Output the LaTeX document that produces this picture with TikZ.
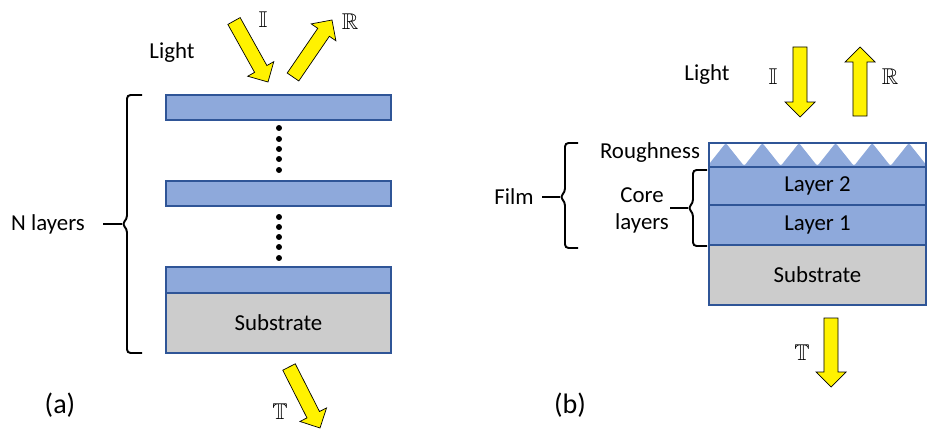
\documentclass[tikz,border=0pt]{standalone}
\usepackage{amssymb}
\usepackage{fontspec}
\setmainfont{Carlito}
\usetikzlibrary{calc}

\definecolor{layerblue}{RGB}{142,169,219}
\definecolor{edgeblue}{RGB}{47,85,151}
\definecolor{subgray}{RGB}{204,204,204}
\definecolor{beamyellow}{RGB}{255,242,0}

\tikzset{
  layer/.style={fill=layerblue, draw=edgeblue, line width=0.8pt},
  substrate/.style={fill=subgray, draw=edgeblue, line width=0.8pt},
  beam/.style={fill=beamyellow, draw=black, line width=0.4pt, line join=miter},
  brace/.style={draw=black, line width=1.1pt, rounded corners=2pt},
  lbl/.style={font=\fontsize{13}{15.5}\selectfont, inner sep=0pt},
  sym/.style={font=\fontsize{13}{15}\selectfont, inner sep=0pt},
  tag/.style={font=\fontsize{16}{19}\selectfont, inner sep=0pt}
}

% block arrow from #1 (tail) to #2 (tip)
\newcommand\lightbeam[2]{%
  \path ($(#2)!8.5pt!(#1)$) coordinate (hb);
  \draw[beam] ($(#1)!4pt!90:(#2)$) -- ($(hb)!4pt!90:(#2)$) -- ($(hb)!8.5pt!90:(#2)$)
    -- (#2) -- ($(hb)!8.5pt!-90:(#2)$) -- ($(hb)!4pt!-90:(#2)$) -- ($(#1)!4pt!-90:(#2)$) -- cycle;}

\begin{document}
\begin{tikzpicture}[x=0.02cm, y=-0.02cm]
  \useasboundingbox (0,0) rectangle (928,429);

  % (a) stack of N layers
  \draw[layer] (166,95) rectangle (391,120);
  \draw[layer] (166,181) rectangle (391,206);
  \draw[layer] (166,267) rectangle (391,293);
  \draw[substrate] (166,293) rectangle (391,353);
  \node[lbl] (sub_a) at (278.5,323) {Substrate};
  \foreach \y in {128,139,149,159,170,217,227,237,247,258}
    \fill (279,\y) circle (1.7pt);

  \draw[brace] (142,95) -- (127,95) -- (127,219) -- (122,224) -- (127,229) -- (127,353) -- (142,353);
  \coordinate (tip_a) at (122,224);
  \node[lbl] (nlay) at (48,224) {N layers};
  \draw[line width=1.1pt] (103,224) -- (tip_a);

  \node[lbl] (light_a) at (172,53) {Light};
  \coordinate (ia0) at (234,21);  \coordinate (ia1) at (268,82);
  \coordinate (ra0) at (293,77);  \coordinate (ra1) at (332,20);
  \coordinate (ta0) at (289,367); \coordinate (ta1) at (320,428);
  \lightbeam{ia0}{ia1}
  \lightbeam{ra0}{ra1}
  \lightbeam{ta0}{ta1}
  \node[sym] (i_a) at (263,20) {$\mathbb{I}$};
  \node[sym] (r_a) at (350,22) {$\mathbb{R}$};
  \node[sym] (t_a) at (280,412) {$\mathbb{T}$};
  \node[tag] (cap_a) at (60,405) {(a)};

  % (b) film on substrate
  \begin{scope}
    \clip (709,143) rectangle (926,167);
    \fill[layerblue, rounded corners=1.2pt] (680,168)
      \foreach \k in {-1,...,6} { -- ({707.5+36.6*\k},166) -- ({725.8+36.6*\k},143) }
      -- (950,166) -- (950,168) -- cycle;
  \end{scope}
  \draw[edgeblue, line width=0.8pt] (709,143) rectangle (926,167);
  \draw[layer] (709,167) rectangle (926,205);
  \draw[layer] (709,205) rectangle (926,245);
  \draw[substrate] (709,245) rectangle (926,305);
  \node[lbl] (lay2) at (817.5,186) {Layer 2};
  \node[lbl] (lay1) at (817.5,225) {Layer 1};
  \node[lbl] (sub_b) at (817.5,275) {Substrate};

  \node[lbl] (rough) at (650,153) {Roughness};
  \node[lbl] (core) at (642,195) {Core};
  \node[lbl] (cores) at (642,223) {layers};
  \node[lbl] (film) at (514,197) {Film};

  \draw[brace] (578,143) -- (565,143) -- (565,192) -- (560,197) -- (565,202) -- (565,248) -- (578,248);
  \coordinate (tip_f) at (560,197);
  \draw[line width=1.1pt] (542,197) -- (tip_f);
  \draw[brace] (707,170) -- (693,170) -- (693,203) -- (688,208) -- (693,213) -- (693,246) -- (707,246);
  \coordinate (tip_c) at (688,208);
  \draw[line width=1.1pt] (670,208) -- (tip_c);

  \node[lbl] (light_b) at (707,75) {Light};
  \coordinate (ib0) at (800,47);  \coordinate (ib1) at (800,117);
  \coordinate (rb0) at (860,116); \coordinate (rb1) at (860,47);
  \coordinate (tb0) at (831,318); \coordinate (tb1) at (831,387);
  \lightbeam{ib0}{ib1}
  \lightbeam{rb0}{rb1}
  \lightbeam{tb0}{tb1}
  \node[sym] (i_b) at (773,77) {$\mathbb{I}$};
  \node[sym] (r_b) at (890,77) {$\mathbb{R}$};
  \node[sym] (t_b) at (802,353) {$\mathbb{T}$};
  \node[tag] (cap_b) at (570,405) {(b)};
\end{tikzpicture}
\end{document}
